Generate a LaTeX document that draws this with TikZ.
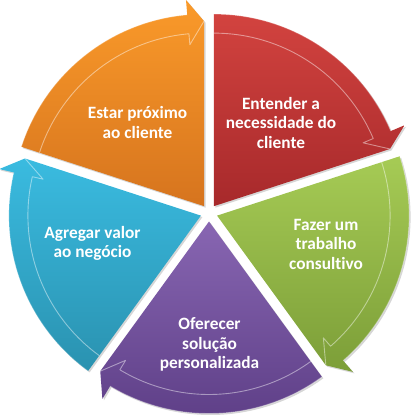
\documentclass[tikz,border=0pt]{standalone}
\usepackage{fontspec}
\setmainfont{Carlito}[Ligatures={NoCommon}]
\definecolor{orT}{HTML}{FA9A2A}
\definecolor{orB}{HTML}{D6741E}
\definecolor{rdT}{HTML}{D2433F}
\definecolor{rdB}{HTML}{A7292B}
\definecolor{gnT}{HTML}{A6CB55}
\definecolor{gnB}{HTML}{7C9E38}
\definecolor{puT}{HTML}{8866B2}
\definecolor{puB}{HTML}{5D3E86}
\definecolor{blT}{HTML}{3ABBE0}
\definecolor{blB}{HTML}{2A92B0}
\newcommand\segpiece[3]{%
 \begin{scope}[shift={(C)},shift={(#1:8.5)}]
  \fill[black,opacity=0.16,shift={(1.5,-1.5)}] (0,0) -- (#1+36:192)
    arc[start angle=#1+36,end angle=#1-31,radius=192] -- (#1-31:207) -- (#1-36:185) -- cycle;
  \shade[top color=#2,bottom color=#3] (0,0) -- (#1+36:192)
    arc[start angle=#1+36,end angle=#1-31,radius=192] -- (#1-31:207) -- (#1-36:185) -- cycle;
  \draw[hl] (#1+36:173) arc[start angle=#1+36,end angle=#1-31,radius=173]
    -- (#1-31:162) -- (#1-36:185);
  \draw[hl,draw opacity=0.25] (#1+36:192) arc[start angle=#1+36,end angle=#1-31,radius=192];
 \end{scope}}
\begin{document}
\begin{tikzpicture}[x=1pt,y=1pt,
  lbl/.style={text=white,font=\fontsize{17.3}{19.5}\selectfont\bfseries,align=center,inner sep=0pt},
  hl/.style={draw=white,draw opacity=0.45,line width=0.9pt,line join=round}]
\useasboundingbox (0,0) rectangle (413,416);
\coordinate (C) at (209,203);
\segpiece{126}{orT}{orB}
\segpiece{54}{rdT}{rdB}
\segpiece{-18}{gnT}{gnB}
\segpiece{-90}{puT}{puB}
\segpiece{198}{blT}{blB}
\node[lbl] (t1) at (137.5,293.5) {Estar próximo\\ao cliente};
\node[lbl] (t2) at (281,293.5) {Entender a\\necessidade do\\cliente};
\node[lbl] (t3) at (326,172) {Fazer um\\trabalho\\consultivo};
\node[lbl] (t4) at (209.5,71.5) {Oferecer\\solução\\personalizada};
\node[lbl] (t5) at (92.5,172.5) {Agregar valor\\ao negócio};
\end{tikzpicture}
\end{document}
